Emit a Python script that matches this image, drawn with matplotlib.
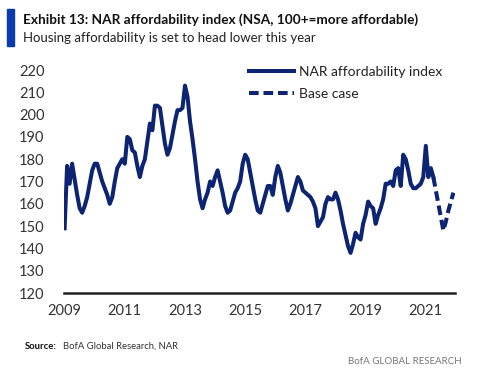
import matplotlib
matplotlib.use("Agg")
import matplotlib.pyplot as plt
from matplotlib.patches import Rectangle
import numpy as np

plt.rcParams['font.family'] = ['Lato', 'DejaVu Sans']

# Monthly NAR affordability index, Jan 2009 - Apr 2021
index_2009 = [149, 177, 169, 178, 171, 164, 158, 156, 159, 163, 169, 175]
index_2010 = [178, 178, 174, 170, 167, 164, 160, 163, 170, 176, 178, 180]
index_2011 = [178, 190, 189, 184, 183, 177, 172, 177, 180, 188, 196, 193]
index_2012 = [204, 204, 203, 195, 187, 182, 185, 191, 197, 202, 202, 203]
index_2013 = [213, 208, 197, 189, 180, 170, 162, 158, 162, 165, 170, 168]
index_2014 = [172, 175, 170, 165, 159, 156, 157, 161, 165, 167, 170, 178]
index_2015 = [182, 180, 174, 168, 162, 157, 156, 160, 164, 168, 168, 164]
index_2016 = [172, 177, 174, 168, 162, 157, 160, 164, 168, 172, 170, 166]
index_2017 = [165, 164, 163, 161, 158, 150, 152, 154, 160, 163, 162, 162]
index_2018 = [165, 162, 157, 151, 146, 141, 138, 142, 147, 145, 144, 151]
index_2019 = [155, 161, 159, 158, 151, 155, 158, 162, 169, 169, 170, 168]
index_2020 = [175, 176, 168, 182, 180, 175, 169, 167, 167, 168, 169, 172]
index_2021 = [186, 172, 176, 172]

# Base case forecast, Apr 2021 - Dec 2021
base_case = [172, 166, 160, 154, 148, 152, 157, 161, 165]

actual = (index_2009 + index_2010 + index_2011 + index_2012 + index_2013 + index_2014
          + index_2015 + index_2016 + index_2017 + index_2018 + index_2019 + index_2020
          + index_2021)
x_actual = 2009 + np.arange(len(actual)) / 12
x_base = 2009 + (len(actual) - 1 + np.arange(len(base_case))) / 12

navy = '#0c2472'

fig = plt.figure(figsize=(5, 3.71), dpi=100)
ax = fig.add_axes([0.128, 0.2102, 0.782, 0.6011])

ax.plot(x_actual, actual, color=navy, linewidth=2.9, label='NAR affordability index',
        solid_joinstyle='round')
ax.plot(x_base, base_case, color=navy, linewidth=2.9, linestyle=(0, (2.4, 1.2)),
        label='Base case')

ax.set_xlim(2008.98, 2021.97)
ax.set_ylim(120, 220)
ax.set_yticks(np.arange(120, 221, 10))
ax.set_xticks(np.arange(2009, 2022, 2))
ax.tick_params(length=0, labelsize=10.5, colors='#333333')
ax.tick_params(axis='x', pad=8)
ax.tick_params(axis='y', pad=14)
for s in ['top', 'right', 'left']:
    ax.spines[s].set_visible(False)
ax.spines['bottom'].set_linewidth(1.8)
ax.spines['bottom'].set_color('#222222')

leg = ax.legend(loc='upper right', bbox_to_anchor=(1.0, 1.075), frameon=False,
                fontsize=10, handlelength=3.3, handletextpad=0.35, labelspacing=0.75)
for t in leg.get_texts():
    t.set_color('#222222')

# Title block
fig.patches.append(Rectangle((0.014, 0.875), 0.013, 0.1, transform=fig.transFigure,
                             color='#0a3bb3'))
fig.text(0.046, 0.947, 'Exhibit 13: NAR affordability index (NSA, 100+=more affordable)',
         fontsize=9.8, fontweight='bold', va='center', color='#111111')
fig.text(0.046, 0.897, 'Housing affordability is set to head lower this year',
         fontsize=9.5, va='center', color='#222222')

# Source and footer
fig.text(0.05, 0.066, 'Source:', fontsize=6.8, fontweight='bold', va='center', color='#111111')
fig.text(0.126, 0.066, 'BofA Global Research, NAR', fontsize=6.8, va='center', color='#333333')
fig.text(0.924, 0.025, 'BofA GLOBAL RESEARCH', fontsize=7, va='center', ha='right',
         color='#777777')

fig.savefig('out.png', dpi=100)
